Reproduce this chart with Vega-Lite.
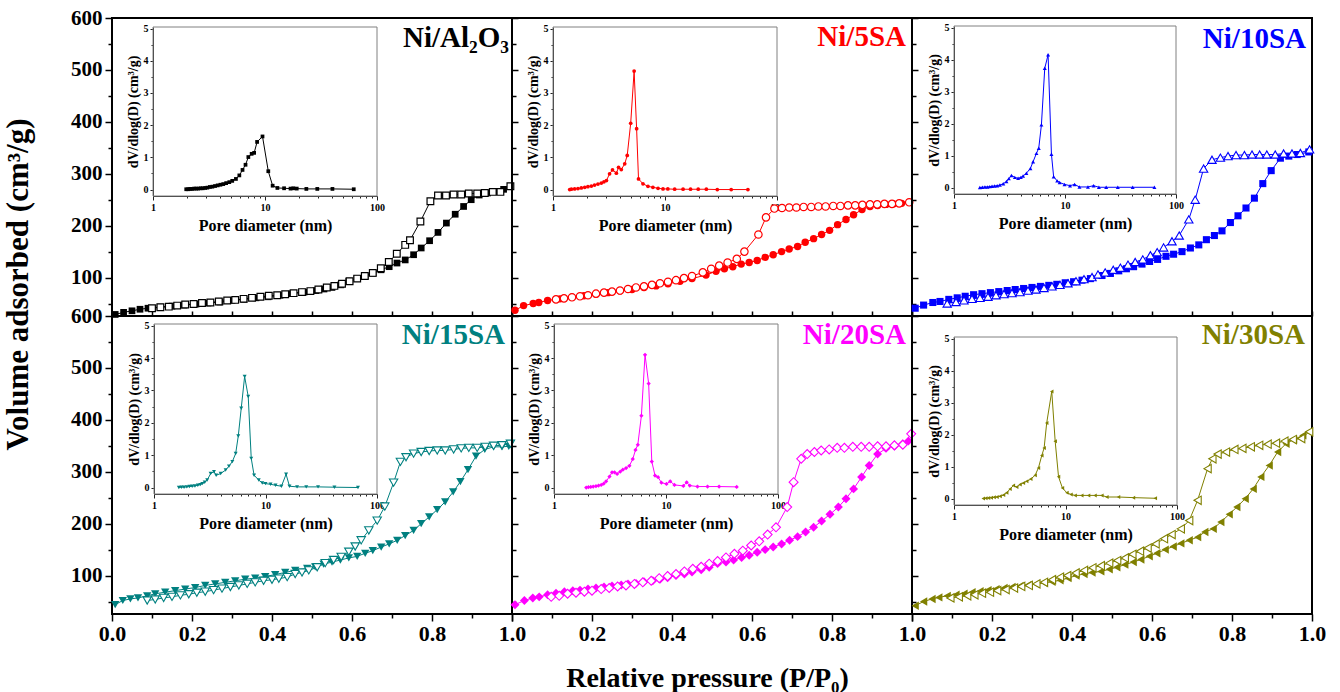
{
"$schema": "https://vega.github.io/schema/vega-lite/v6.json",
"background": "white",
"autosize": {"type": "pad"},
"padding": {"left": 0, "top": 6, "right": 0, "bottom": 0},
"columns": 3,
"spacing": 0,
"bounds": "flush",
"config": {
  "font": "Liberation Serif",
  "view": {"stroke": "#000", "strokeWidth": 2},
  "axis": {"labelFont": "Liberation Serif", "labelFontWeight": "bold", "labelColor": "#000", "titleFont": "Liberation Serif", "titleFontWeight": "bold", "titleColor": "#000", "tickColor": "#000", "grid": false, "labelFlush": false, "labelOverlap": false, "labelBound": false}
},
"datasets": {
"iso": [
{"sample":"Ni/Al2O3","branch":"ads","p":0.008,"v":29},{"sample":"Ni/Al2O3","branch":"ads","p":0.029,"v":33},{"sample":"Ni/Al2O3","branch":"ads","p":0.05,"v":36},{"sample":"Ni/Al2O3","branch":"ads","p":0.07,"v":39},{"sample":"Ni/Al2O3","branch":"ads","p":0.09,"v":41},{"sample":"Ni/Al2O3","branch":"ads","p":0.12,"v":43},{"sample":"Ni/Al2O3","branch":"ads","p":0.15,"v":45},{"sample":"Ni/Al2O3","branch":"ads","p":0.18,"v":47},{"sample":"Ni/Al2O3","branch":"ads","p":0.21,"v":49},{"sample":"Ni/Al2O3","branch":"ads","p":0.24,"v":51},{"sample":"Ni/Al2O3","branch":"ads","p":0.27,"v":53},{"sample":"Ni/Al2O3","branch":"ads","p":0.3,"v":56},{"sample":"Ni/Al2O3","branch":"ads","p":0.33,"v":58},{"sample":"Ni/Al2O3","branch":"ads","p":0.36,"v":61},{"sample":"Ni/Al2O3","branch":"ads","p":0.39,"v":63},{"sample":"Ni/Al2O3","branch":"ads","p":0.42,"v":66},{"sample":"Ni/Al2O3","branch":"ads","p":0.45,"v":69},{"sample":"Ni/Al2O3","branch":"ads","p":0.48,"v":72},{"sample":"Ni/Al2O3","branch":"ads","p":0.51,"v":75},{"sample":"Ni/Al2O3","branch":"ads","p":0.53,"v":78},{"sample":"Ni/Al2O3","branch":"ads","p":0.55,"v":81},{"sample":"Ni/Al2O3","branch":"ads","p":0.572,"v":86},{"sample":"Ni/Al2O3","branch":"ads","p":0.592,"v":93},{"sample":"Ni/Al2O3","branch":"ads","p":0.6125,"v":98},{"sample":"Ni/Al2O3","branch":"ads","p":0.633,"v":103},{"sample":"Ni/Al2O3","branch":"ads","p":0.6525,"v":108},{"sample":"Ni/Al2O3","branch":"ads","p":0.6725,"v":115},{"sample":"Ni/Al2O3","branch":"ads","p":0.693,"v":121},{"sample":"Ni/Al2O3","branch":"ads","p":0.7125,"v":128},{"sample":"Ni/Al2O3","branch":"ads","p":0.733,"v":134},{"sample":"Ni/Al2O3","branch":"ads","p":0.754,"v":144},{"sample":"Ni/Al2O3","branch":"ads","p":0.773,"v":157},{"sample":"Ni/Al2O3","branch":"ads","p":0.794,"v":171},{"sample":"Ni/Al2O3","branch":"ads","p":0.815,"v":187},{"sample":"Ni/Al2O3","branch":"ads","p":0.836,"v":205},{"sample":"Ni/Al2O3","branch":"ads","p":0.858,"v":222},{"sample":"Ni/Al2O3","branch":"ads","p":0.879,"v":237},{"sample":"Ni/Al2O3","branch":"ads","p":0.898,"v":250},{"sample":"Ni/Al2O3","branch":"ads","p":0.918,"v":259},{"sample":"Ni/Al2O3","branch":"ads","p":0.939,"v":263},{"sample":"Ni/Al2O3","branch":"ads","p":0.958,"v":266},{"sample":"Ni/Al2O3","branch":"ads","p":0.979,"v":270},
{"sample":"Ni/Al2O3","branch":"des","p":0.1,"v":41},{"sample":"Ni/Al2O3","branch":"des","p":0.121,"v":43},{"sample":"Ni/Al2O3","branch":"des","p":0.142,"v":44},{"sample":"Ni/Al2O3","branch":"des","p":0.163,"v":46},{"sample":"Ni/Al2O3","branch":"des","p":0.183,"v":48},{"sample":"Ni/Al2O3","branch":"des","p":0.204,"v":49},{"sample":"Ni/Al2O3","branch":"des","p":0.225,"v":51},{"sample":"Ni/Al2O3","branch":"des","p":0.246,"v":52},{"sample":"Ni/Al2O3","branch":"des","p":0.267,"v":54},{"sample":"Ni/Al2O3","branch":"des","p":0.288,"v":56},{"sample":"Ni/Al2O3","branch":"des","p":0.308,"v":57},{"sample":"Ni/Al2O3","branch":"des","p":0.329,"v":59},{"sample":"Ni/Al2O3","branch":"des","p":0.35,"v":61},{"sample":"Ni/Al2O3","branch":"des","p":0.371,"v":63},{"sample":"Ni/Al2O3","branch":"des","p":0.392,"v":65},{"sample":"Ni/Al2O3","branch":"des","p":0.413,"v":66},{"sample":"Ni/Al2O3","branch":"des","p":0.433,"v":68},{"sample":"Ni/Al2O3","branch":"des","p":0.454,"v":70},{"sample":"Ni/Al2O3","branch":"des","p":0.475,"v":72},{"sample":"Ni/Al2O3","branch":"des","p":0.496,"v":74},{"sample":"Ni/Al2O3","branch":"des","p":0.516,"v":77},{"sample":"Ni/Al2O3","branch":"des","p":0.537,"v":81},{"sample":"Ni/Al2O3","branch":"des","p":0.556,"v":84},{"sample":"Ni/Al2O3","branch":"des","p":0.575,"v":88},{"sample":"Ni/Al2O3","branch":"des","p":0.594,"v":93},{"sample":"Ni/Al2O3","branch":"des","p":0.613,"v":98},{"sample":"Ni/Al2O3","branch":"des","p":0.632,"v":103},{"sample":"Ni/Al2O3","branch":"des","p":0.652,"v":109},{"sample":"Ni/Al2O3","branch":"des","p":0.672,"v":118},{"sample":"Ni/Al2O3","branch":"des","p":0.692,"v":130},{"sample":"Ni/Al2O3","branch":"des","p":0.712,"v":146},{"sample":"Ni/Al2O3","branch":"des","p":0.733,"v":163},{"sample":"Ni/Al2O3","branch":"des","p":0.745,"v":172},{"sample":"Ni/Al2O3","branch":"des","p":0.771,"v":208},{"sample":"Ni/Al2O3","branch":"des","p":0.796,"v":247},{"sample":"Ni/Al2O3","branch":"des","p":0.815,"v":258},{"sample":"Ni/Al2O3","branch":"des","p":0.835,"v":258},{"sample":"Ni/Al2O3","branch":"des","p":0.854,"v":260},{"sample":"Ni/Al2O3","branch":"des","p":0.873,"v":260},{"sample":"Ni/Al2O3","branch":"des","p":0.892,"v":262},{"sample":"Ni/Al2O3","branch":"des","p":0.913,"v":262},{"sample":"Ni/Al2O3","branch":"des","p":0.932,"v":263},{"sample":"Ni/Al2O3","branch":"des","p":0.952,"v":265},{"sample":"Ni/Al2O3","branch":"des","p":0.971,"v":265},{"sample":"Ni/Al2O3","branch":"des","p":0.996,"v":276},
{"sample":"Ni/5SA","branch":"ads","p":0.0075,"v":37},{"sample":"Ni/5SA","branch":"ads","p":0.029,"v":46},{"sample":"Ni/5SA","branch":"ads","p":0.053,"v":50},{"sample":"Ni/5SA","branch":"ads","p":0.067,"v":52},{"sample":"Ni/5SA","branch":"ads","p":0.089,"v":56},{"sample":"Ni/5SA","branch":"ads","p":0.12,"v":59},{"sample":"Ni/5SA","branch":"ads","p":0.15,"v":62},{"sample":"Ni/5SA","branch":"ads","p":0.18,"v":65},{"sample":"Ni/5SA","branch":"ads","p":0.21,"v":68},{"sample":"Ni/5SA","branch":"ads","p":0.24,"v":71},{"sample":"Ni/5SA","branch":"ads","p":0.27,"v":74},{"sample":"Ni/5SA","branch":"ads","p":0.3,"v":77},{"sample":"Ni/5SA","branch":"ads","p":0.33,"v":81},{"sample":"Ni/5SA","branch":"ads","p":0.36,"v":84},{"sample":"Ni/5SA","branch":"ads","p":0.39,"v":88},{"sample":"Ni/5SA","branch":"ads","p":0.42,"v":93},{"sample":"Ni/5SA","branch":"ads","p":0.45,"v":98},{"sample":"Ni/5SA","branch":"ads","p":0.485,"v":105},{"sample":"Ni/5SA","branch":"ads","p":0.51,"v":112},{"sample":"Ni/5SA","branch":"ads","p":0.531,"v":117},{"sample":"Ni/5SA","branch":"ads","p":0.552,"v":121},{"sample":"Ni/5SA","branch":"ads","p":0.573,"v":126},{"sample":"Ni/5SA","branch":"ads","p":0.593,"v":129},{"sample":"Ni/5SA","branch":"ads","p":0.613,"v":133},{"sample":"Ni/5SA","branch":"ads","p":0.633,"v":139},{"sample":"Ni/5SA","branch":"ads","p":0.653,"v":144},{"sample":"Ni/5SA","branch":"ads","p":0.674,"v":150},{"sample":"Ni/5SA","branch":"ads","p":0.693,"v":155},{"sample":"Ni/5SA","branch":"ads","p":0.714,"v":160},{"sample":"Ni/5SA","branch":"ads","p":0.733,"v":168},{"sample":"Ni/5SA","branch":"ads","p":0.754,"v":175},{"sample":"Ni/5SA","branch":"ads","p":0.774,"v":183},{"sample":"Ni/5SA","branch":"ads","p":0.794,"v":191},{"sample":"Ni/5SA","branch":"ads","p":0.814,"v":202},{"sample":"Ni/5SA","branch":"ads","p":0.835,"v":212},{"sample":"Ni/5SA","branch":"ads","p":0.854,"v":221},{"sample":"Ni/5SA","branch":"ads","p":0.875,"v":231},{"sample":"Ni/5SA","branch":"ads","p":0.895,"v":237},{"sample":"Ni/5SA","branch":"ads","p":0.914,"v":239},{"sample":"Ni/5SA","branch":"ads","p":0.935,"v":241},{"sample":"Ni/5SA","branch":"ads","p":0.954,"v":242},{"sample":"Ni/5SA","branch":"ads","p":0.974,"v":243},
{"sample":"Ni/5SA","branch":"des","p":0.11,"v":58},{"sample":"Ni/5SA","branch":"des","p":0.13,"v":60},{"sample":"Ni/5SA","branch":"des","p":0.15,"v":62},{"sample":"Ni/5SA","branch":"des","p":0.17,"v":64},{"sample":"Ni/5SA","branch":"des","p":0.19,"v":66},{"sample":"Ni/5SA","branch":"des","p":0.21,"v":69},{"sample":"Ni/5SA","branch":"des","p":0.23,"v":71},{"sample":"Ni/5SA","branch":"des","p":0.25,"v":73},{"sample":"Ni/5SA","branch":"des","p":0.27,"v":75},{"sample":"Ni/5SA","branch":"des","p":0.29,"v":78},{"sample":"Ni/5SA","branch":"des","p":0.31,"v":81},{"sample":"Ni/5SA","branch":"des","p":0.33,"v":83},{"sample":"Ni/5SA","branch":"des","p":0.35,"v":86},{"sample":"Ni/5SA","branch":"des","p":0.37,"v":89},{"sample":"Ni/5SA","branch":"des","p":0.39,"v":92},{"sample":"Ni/5SA","branch":"des","p":0.41,"v":95},{"sample":"Ni/5SA","branch":"des","p":0.43,"v":99},{"sample":"Ni/5SA","branch":"des","p":0.45,"v":103},{"sample":"Ni/5SA","branch":"des","p":0.477,"v":110},{"sample":"Ni/5SA","branch":"des","p":0.498,"v":117},{"sample":"Ni/5SA","branch":"des","p":0.518,"v":123},{"sample":"Ni/5SA","branch":"des","p":0.539,"v":129},{"sample":"Ni/5SA","branch":"des","p":0.562,"v":136},{"sample":"Ni/5SA","branch":"des","p":0.581,"v":150},{"sample":"Ni/5SA","branch":"des","p":0.616,"v":183},{"sample":"Ni/5SA","branch":"des","p":0.635,"v":216},{"sample":"Ni/5SA","branch":"des","p":0.656,"v":233},{"sample":"Ni/5SA","branch":"des","p":0.675,"v":234},{"sample":"Ni/5SA","branch":"des","p":0.693,"v":235},{"sample":"Ni/5SA","branch":"des","p":0.711,"v":235},{"sample":"Ni/5SA","branch":"des","p":0.729,"v":236},{"sample":"Ni/5SA","branch":"des","p":0.748,"v":236},{"sample":"Ni/5SA","branch":"des","p":0.766,"v":237},{"sample":"Ni/5SA","branch":"des","p":0.784,"v":237},{"sample":"Ni/5SA","branch":"des","p":0.803,"v":238},{"sample":"Ni/5SA","branch":"des","p":0.821,"v":238},{"sample":"Ni/5SA","branch":"des","p":0.84,"v":239},{"sample":"Ni/5SA","branch":"des","p":0.858,"v":239},{"sample":"Ni/5SA","branch":"des","p":0.876,"v":240},{"sample":"Ni/5SA","branch":"des","p":0.895,"v":241},{"sample":"Ni/5SA","branch":"des","p":0.913,"v":241},{"sample":"Ni/5SA","branch":"des","p":0.931,"v":242},{"sample":"Ni/5SA","branch":"des","p":0.95,"v":242},{"sample":"Ni/5SA","branch":"des","p":0.968,"v":243},{"sample":"Ni/5SA","branch":"des","p":0.993,"v":245},
{"sample":"Ni/10SA","branch":"ads","p":0.008,"v":41},{"sample":"Ni/10SA","branch":"ads","p":0.029,"v":47},{"sample":"Ni/10SA","branch":"ads","p":0.052,"v":52},{"sample":"Ni/10SA","branch":"ads","p":0.07,"v":54},{"sample":"Ni/10SA","branch":"ads","p":0.092,"v":58},{"sample":"Ni/10SA","branch":"ads","p":0.113,"v":61},{"sample":"Ni/10SA","branch":"ads","p":0.133,"v":64},{"sample":"Ni/10SA","branch":"ads","p":0.154,"v":67},{"sample":"Ni/10SA","branch":"ads","p":0.175,"v":69},{"sample":"Ni/10SA","branch":"ads","p":0.196,"v":71},{"sample":"Ni/10SA","branch":"ads","p":0.217,"v":73},{"sample":"Ni/10SA","branch":"ads","p":0.238,"v":75},{"sample":"Ni/10SA","branch":"ads","p":0.258,"v":77},{"sample":"Ni/10SA","branch":"ads","p":0.279,"v":79},{"sample":"Ni/10SA","branch":"ads","p":0.3,"v":81},{"sample":"Ni/10SA","branch":"ads","p":0.321,"v":83},{"sample":"Ni/10SA","branch":"ads","p":0.342,"v":85},{"sample":"Ni/10SA","branch":"ads","p":0.362,"v":87},{"sample":"Ni/10SA","branch":"ads","p":0.383,"v":90},{"sample":"Ni/10SA","branch":"ads","p":0.404,"v":92},{"sample":"Ni/10SA","branch":"ads","p":0.425,"v":95},{"sample":"Ni/10SA","branch":"ads","p":0.446,"v":98},{"sample":"Ni/10SA","branch":"ads","p":0.475,"v":104},{"sample":"Ni/10SA","branch":"ads","p":0.496,"v":108},{"sample":"Ni/10SA","branch":"ads","p":0.517,"v":113},{"sample":"Ni/10SA","branch":"ads","p":0.536,"v":117},{"sample":"Ni/10SA","branch":"ads","p":0.554,"v":121},{"sample":"Ni/10SA","branch":"ads","p":0.575,"v":126},{"sample":"Ni/10SA","branch":"ads","p":0.594,"v":131},{"sample":"Ni/10SA","branch":"ads","p":0.614,"v":135},{"sample":"Ni/10SA","branch":"ads","p":0.635,"v":141},{"sample":"Ni/10SA","branch":"ads","p":0.654,"v":145},{"sample":"Ni/10SA","branch":"ads","p":0.675,"v":150},{"sample":"Ni/10SA","branch":"ads","p":0.696,"v":157},{"sample":"Ni/10SA","branch":"ads","p":0.717,"v":163},{"sample":"Ni/10SA","branch":"ads","p":0.736,"v":173},{"sample":"Ni/10SA","branch":"ads","p":0.756,"v":181},{"sample":"Ni/10SA","branch":"ads","p":0.775,"v":190},{"sample":"Ni/10SA","branch":"ads","p":0.796,"v":206},{"sample":"Ni/10SA","branch":"ads","p":0.815,"v":219},{"sample":"Ni/10SA","branch":"ads","p":0.835,"v":234},{"sample":"Ni/10SA","branch":"ads","p":0.856,"v":253},{"sample":"Ni/10SA","branch":"ads","p":0.877,"v":281},{"sample":"Ni/10SA","branch":"ads","p":0.898,"v":306},{"sample":"Ni/10SA","branch":"ads","p":0.921,"v":330},{"sample":"Ni/10SA","branch":"ads","p":0.942,"v":334},{"sample":"Ni/10SA","branch":"ads","p":0.963,"v":337},{"sample":"Ni/10SA","branch":"ads","p":0.992,"v":342},
{"sample":"Ni/10SA","branch":"des","p":0.088,"v":50},{"sample":"Ni/10SA","branch":"des","p":0.11,"v":53},{"sample":"Ni/10SA","branch":"des","p":0.13,"v":56},{"sample":"Ni/10SA","branch":"des","p":0.15,"v":59},{"sample":"Ni/10SA","branch":"des","p":0.17,"v":61},{"sample":"Ni/10SA","branch":"des","p":0.19,"v":63},{"sample":"Ni/10SA","branch":"des","p":0.21,"v":66},{"sample":"Ni/10SA","branch":"des","p":0.23,"v":68},{"sample":"Ni/10SA","branch":"des","p":0.25,"v":70},{"sample":"Ni/10SA","branch":"des","p":0.27,"v":72},{"sample":"Ni/10SA","branch":"des","p":0.29,"v":75},{"sample":"Ni/10SA","branch":"des","p":0.31,"v":77},{"sample":"Ni/10SA","branch":"des","p":0.33,"v":80},{"sample":"Ni/10SA","branch":"des","p":0.35,"v":83},{"sample":"Ni/10SA","branch":"des","p":0.37,"v":86},{"sample":"Ni/10SA","branch":"des","p":0.39,"v":89},{"sample":"Ni/10SA","branch":"des","p":0.41,"v":93},{"sample":"Ni/10SA","branch":"des","p":0.43,"v":97},{"sample":"Ni/10SA","branch":"des","p":0.45,"v":101},{"sample":"Ni/10SA","branch":"des","p":0.465,"v":106},{"sample":"Ni/10SA","branch":"des","p":0.483,"v":110},{"sample":"Ni/10SA","branch":"des","p":0.503,"v":115},{"sample":"Ni/10SA","branch":"des","p":0.521,"v":119},{"sample":"Ni/10SA","branch":"des","p":0.54,"v":125},{"sample":"Ni/10SA","branch":"des","p":0.558,"v":130},{"sample":"Ni/10SA","branch":"des","p":0.577,"v":135},{"sample":"Ni/10SA","branch":"des","p":0.596,"v":143},{"sample":"Ni/10SA","branch":"des","p":0.613,"v":149},{"sample":"Ni/10SA","branch":"des","p":0.629,"v":158},{"sample":"Ni/10SA","branch":"des","p":0.65,"v":170},{"sample":"Ni/10SA","branch":"des","p":0.668,"v":181},{"sample":"Ni/10SA","branch":"des","p":0.692,"v":212},{"sample":"Ni/10SA","branch":"des","p":0.708,"v":250},{"sample":"Ni/10SA","branch":"des","p":0.729,"v":310},{"sample":"Ni/10SA","branch":"des","p":0.75,"v":327},{"sample":"Ni/10SA","branch":"des","p":0.771,"v":331},{"sample":"Ni/10SA","branch":"des","p":0.79,"v":334},{"sample":"Ni/10SA","branch":"des","p":0.81,"v":336},{"sample":"Ni/10SA","branch":"des","p":0.831,"v":336},{"sample":"Ni/10SA","branch":"des","p":0.85,"v":337},{"sample":"Ni/10SA","branch":"des","p":0.869,"v":337},{"sample":"Ni/10SA","branch":"des","p":0.887,"v":337},{"sample":"Ni/10SA","branch":"des","p":0.908,"v":337},{"sample":"Ni/10SA","branch":"des","p":0.929,"v":339},{"sample":"Ni/10SA","branch":"des","p":0.95,"v":339},{"sample":"Ni/10SA","branch":"des","p":0.971,"v":340},{"sample":"Ni/10SA","branch":"des","p":0.994,"v":347},
{"sample":"Ni/15SA","branch":"ads","p":0.008,"v":44},{"sample":"Ni/15SA","branch":"ads","p":0.027,"v":52},{"sample":"Ni/15SA","branch":"ads","p":0.046,"v":55},{"sample":"Ni/15SA","branch":"ads","p":0.065,"v":57},{"sample":"Ni/15SA","branch":"ads","p":0.088,"v":61},{"sample":"Ni/15SA","branch":"ads","p":0.108,"v":65},{"sample":"Ni/15SA","branch":"ads","p":0.133,"v":68},{"sample":"Ni/15SA","branch":"ads","p":0.158,"v":71},{"sample":"Ni/15SA","branch":"ads","p":0.183,"v":74},{"sample":"Ni/15SA","branch":"ads","p":0.208,"v":77},{"sample":"Ni/15SA","branch":"ads","p":0.233,"v":81},{"sample":"Ni/15SA","branch":"ads","p":0.258,"v":84},{"sample":"Ni/15SA","branch":"ads","p":0.283,"v":87},{"sample":"Ni/15SA","branch":"ads","p":0.308,"v":90},{"sample":"Ni/15SA","branch":"ads","p":0.333,"v":93},{"sample":"Ni/15SA","branch":"ads","p":0.358,"v":95},{"sample":"Ni/15SA","branch":"ads","p":0.383,"v":98},{"sample":"Ni/15SA","branch":"ads","p":0.408,"v":102},{"sample":"Ni/15SA","branch":"ads","p":0.433,"v":106},{"sample":"Ni/15SA","branch":"ads","p":0.458,"v":110},{"sample":"Ni/15SA","branch":"ads","p":0.488,"v":114},{"sample":"Ni/15SA","branch":"ads","p":0.508,"v":117},{"sample":"Ni/15SA","branch":"ads","p":0.529,"v":122},{"sample":"Ni/15SA","branch":"ads","p":0.55,"v":126},{"sample":"Ni/15SA","branch":"ads","p":0.571,"v":130},{"sample":"Ni/15SA","branch":"ads","p":0.592,"v":134},{"sample":"Ni/15SA","branch":"ads","p":0.613,"v":137},{"sample":"Ni/15SA","branch":"ads","p":0.633,"v":143},{"sample":"Ni/15SA","branch":"ads","p":0.652,"v":148},{"sample":"Ni/15SA","branch":"ads","p":0.673,"v":155},{"sample":"Ni/15SA","branch":"ads","p":0.693,"v":161},{"sample":"Ni/15SA","branch":"ads","p":0.713,"v":168},{"sample":"Ni/15SA","branch":"ads","p":0.733,"v":177},{"sample":"Ni/15SA","branch":"ads","p":0.754,"v":187},{"sample":"Ni/15SA","branch":"ads","p":0.773,"v":200},{"sample":"Ni/15SA","branch":"ads","p":0.793,"v":213},{"sample":"Ni/15SA","branch":"ads","p":0.813,"v":227},{"sample":"Ni/15SA","branch":"ads","p":0.833,"v":242},{"sample":"Ni/15SA","branch":"ads","p":0.853,"v":261},{"sample":"Ni/15SA","branch":"ads","p":0.871,"v":281},{"sample":"Ni/15SA","branch":"ads","p":0.89,"v":304},{"sample":"Ni/15SA","branch":"ads","p":0.91,"v":330},{"sample":"Ni/15SA","branch":"ads","p":0.932,"v":343},{"sample":"Ni/15SA","branch":"ads","p":0.954,"v":348},{"sample":"Ni/15SA","branch":"ads","p":0.975,"v":348},{"sample":"Ni/15SA","branch":"ads","p":0.992,"v":349},
{"sample":"Ni/15SA","branch":"des","p":0.088,"v":52},{"sample":"Ni/15SA","branch":"des","p":0.108,"v":54},{"sample":"Ni/15SA","branch":"des","p":0.129,"v":57},{"sample":"Ni/15SA","branch":"des","p":0.15,"v":59},{"sample":"Ni/15SA","branch":"des","p":0.171,"v":62},{"sample":"Ni/15SA","branch":"des","p":0.192,"v":64},{"sample":"Ni/15SA","branch":"des","p":0.212,"v":67},{"sample":"Ni/15SA","branch":"des","p":0.233,"v":69},{"sample":"Ni/15SA","branch":"des","p":0.254,"v":72},{"sample":"Ni/15SA","branch":"des","p":0.275,"v":75},{"sample":"Ni/15SA","branch":"des","p":0.296,"v":78},{"sample":"Ni/15SA","branch":"des","p":0.317,"v":81},{"sample":"Ni/15SA","branch":"des","p":0.338,"v":84},{"sample":"Ni/15SA","branch":"des","p":0.358,"v":87},{"sample":"Ni/15SA","branch":"des","p":0.379,"v":90},{"sample":"Ni/15SA","branch":"des","p":0.4,"v":92},{"sample":"Ni/15SA","branch":"des","p":0.417,"v":94},{"sample":"Ni/15SA","branch":"des","p":0.438,"v":97},{"sample":"Ni/15SA","branch":"des","p":0.458,"v":103},{"sample":"Ni/15SA","branch":"des","p":0.475,"v":106},{"sample":"Ni/15SA","branch":"des","p":0.492,"v":110},{"sample":"Ni/15SA","branch":"des","p":0.513,"v":116},{"sample":"Ni/15SA","branch":"des","p":0.533,"v":124},{"sample":"Ni/15SA","branch":"des","p":0.554,"v":130},{"sample":"Ni/15SA","branch":"des","p":0.573,"v":136},{"sample":"Ni/15SA","branch":"des","p":0.592,"v":146},{"sample":"Ni/15SA","branch":"des","p":0.608,"v":156},{"sample":"Ni/15SA","branch":"des","p":0.623,"v":168},{"sample":"Ni/15SA","branch":"des","p":0.642,"v":187},{"sample":"Ni/15SA","branch":"des","p":0.663,"v":206},{"sample":"Ni/15SA","branch":"des","p":0.682,"v":233},{"sample":"Ni/15SA","branch":"des","p":0.704,"v":279},{"sample":"Ni/15SA","branch":"des","p":0.721,"v":319},{"sample":"Ni/15SA","branch":"des","p":0.735,"v":328},{"sample":"Ni/15SA","branch":"des","p":0.754,"v":335},{"sample":"Ni/15SA","branch":"des","p":0.773,"v":338},{"sample":"Ni/15SA","branch":"des","p":0.793,"v":340},{"sample":"Ni/15SA","branch":"des","p":0.813,"v":341},{"sample":"Ni/15SA","branch":"des","p":0.833,"v":341},{"sample":"Ni/15SA","branch":"des","p":0.854,"v":343},{"sample":"Ni/15SA","branch":"des","p":0.873,"v":345},{"sample":"Ni/15SA","branch":"des","p":0.892,"v":346},{"sample":"Ni/15SA","branch":"des","p":0.913,"v":346},{"sample":"Ni/15SA","branch":"des","p":0.933,"v":348},{"sample":"Ni/15SA","branch":"des","p":0.954,"v":350},{"sample":"Ni/15SA","branch":"des","p":0.975,"v":351},{"sample":"Ni/15SA","branch":"des","p":0.996,"v":354},
{"sample":"Ni/20SA","branch":"ads","p":0.0075,"v":44},{"sample":"Ni/20SA","branch":"ads","p":0.031,"v":52},{"sample":"Ni/20SA","branch":"ads","p":0.052,"v":57},{"sample":"Ni/20SA","branch":"ads","p":0.068,"v":59},{"sample":"Ni/20SA","branch":"ads","p":0.089,"v":63},{"sample":"Ni/20SA","branch":"ads","p":0.11,"v":66},{"sample":"Ni/20SA","branch":"ads","p":0.131,"v":69},{"sample":"Ni/20SA","branch":"ads","p":0.152,"v":71},{"sample":"Ni/20SA","branch":"ads","p":0.17,"v":72},{"sample":"Ni/20SA","branch":"ads","p":0.19,"v":74},{"sample":"Ni/20SA","branch":"ads","p":0.21,"v":76},{"sample":"Ni/20SA","branch":"ads","p":0.23,"v":78},{"sample":"Ni/20SA","branch":"ads","p":0.25,"v":80},{"sample":"Ni/20SA","branch":"ads","p":0.273,"v":82},{"sample":"Ni/20SA","branch":"ads","p":0.29,"v":84},{"sample":"Ni/20SA","branch":"ads","p":0.31,"v":85},{"sample":"Ni/20SA","branch":"ads","p":0.33,"v":88},{"sample":"Ni/20SA","branch":"ads","p":0.352,"v":90},{"sample":"Ni/20SA","branch":"ads","p":0.37,"v":93},{"sample":"Ni/20SA","branch":"ads","p":0.389,"v":96},{"sample":"Ni/20SA","branch":"ads","p":0.41,"v":100},{"sample":"Ni/20SA","branch":"ads","p":0.431,"v":103},{"sample":"Ni/20SA","branch":"ads","p":0.45,"v":107},{"sample":"Ni/20SA","branch":"ads","p":0.473,"v":111},{"sample":"Ni/20SA","branch":"ads","p":0.493,"v":116},{"sample":"Ni/20SA","branch":"ads","p":0.514,"v":123},{"sample":"Ni/20SA","branch":"ads","p":0.535,"v":126},{"sample":"Ni/20SA","branch":"ads","p":0.554,"v":130},{"sample":"Ni/20SA","branch":"ads","p":0.574,"v":135},{"sample":"Ni/20SA","branch":"ads","p":0.593,"v":139},{"sample":"Ni/20SA","branch":"ads","p":0.613,"v":145},{"sample":"Ni/20SA","branch":"ads","p":0.633,"v":150},{"sample":"Ni/20SA","branch":"ads","p":0.653,"v":155},{"sample":"Ni/20SA","branch":"ads","p":0.674,"v":161},{"sample":"Ni/20SA","branch":"ads","p":0.694,"v":168},{"sample":"Ni/20SA","branch":"ads","p":0.714,"v":175},{"sample":"Ni/20SA","branch":"ads","p":0.734,"v":184},{"sample":"Ni/20SA","branch":"ads","p":0.754,"v":193},{"sample":"Ni/20SA","branch":"ads","p":0.774,"v":205},{"sample":"Ni/20SA","branch":"ads","p":0.795,"v":218},{"sample":"Ni/20SA","branch":"ads","p":0.816,"v":232},{"sample":"Ni/20SA","branch":"ads","p":0.835,"v":248},{"sample":"Ni/20SA","branch":"ads","p":0.854,"v":267},{"sample":"Ni/20SA","branch":"ads","p":0.874,"v":290},{"sample":"Ni/20SA","branch":"ads","p":0.893,"v":312},{"sample":"Ni/20SA","branch":"ads","p":0.914,"v":334},{"sample":"Ni/20SA","branch":"ads","p":0.935,"v":345},{"sample":"Ni/20SA","branch":"ads","p":0.956,"v":349},{"sample":"Ni/20SA","branch":"ads","p":0.977,"v":354},{"sample":"Ni/20SA","branch":"ads","p":0.991,"v":359},
{"sample":"Ni/20SA","branch":"des","p":0.098,"v":59},{"sample":"Ni/20SA","branch":"des","p":0.118,"v":61},{"sample":"Ni/20SA","branch":"des","p":0.139,"v":65},{"sample":"Ni/20SA","branch":"des","p":0.16,"v":67},{"sample":"Ni/20SA","branch":"des","p":0.181,"v":69},{"sample":"Ni/20SA","branch":"des","p":0.2,"v":71},{"sample":"Ni/20SA","branch":"des","p":0.223,"v":74},{"sample":"Ni/20SA","branch":"des","p":0.243,"v":76},{"sample":"Ni/20SA","branch":"des","p":0.264,"v":79},{"sample":"Ni/20SA","branch":"des","p":0.285,"v":81},{"sample":"Ni/20SA","branch":"des","p":0.306,"v":84},{"sample":"Ni/20SA","branch":"des","p":0.327,"v":87},{"sample":"Ni/20SA","branch":"des","p":0.348,"v":90},{"sample":"Ni/20SA","branch":"des","p":0.368,"v":95},{"sample":"Ni/20SA","branch":"des","p":0.389,"v":99},{"sample":"Ni/20SA","branch":"des","p":0.41,"v":103},{"sample":"Ni/20SA","branch":"des","p":0.431,"v":108},{"sample":"Ni/20SA","branch":"des","p":0.452,"v":113},{"sample":"Ni/20SA","branch":"des","p":0.473,"v":117},{"sample":"Ni/20SA","branch":"des","p":0.493,"v":123},{"sample":"Ni/20SA","branch":"des","p":0.514,"v":128},{"sample":"Ni/20SA","branch":"des","p":0.535,"v":135},{"sample":"Ni/20SA","branch":"des","p":0.556,"v":142},{"sample":"Ni/20SA","branch":"des","p":0.577,"v":148},{"sample":"Ni/20SA","branch":"des","p":0.598,"v":158},{"sample":"Ni/20SA","branch":"des","p":0.618,"v":166},{"sample":"Ni/20SA","branch":"des","p":0.639,"v":179},{"sample":"Ni/20SA","branch":"des","p":0.66,"v":193},{"sample":"Ni/20SA","branch":"des","p":0.688,"v":232},{"sample":"Ni/20SA","branch":"des","p":0.704,"v":280},{"sample":"Ni/20SA","branch":"des","p":0.723,"v":325},{"sample":"Ni/20SA","branch":"des","p":0.738,"v":334},{"sample":"Ni/20SA","branch":"des","p":0.756,"v":338},{"sample":"Ni/20SA","branch":"des","p":0.773,"v":341},{"sample":"Ni/20SA","branch":"des","p":0.793,"v":343},{"sample":"Ni/20SA","branch":"des","p":0.813,"v":346},{"sample":"Ni/20SA","branch":"des","p":0.831,"v":346},{"sample":"Ni/20SA","branch":"des","p":0.852,"v":348},{"sample":"Ni/20SA","branch":"des","p":0.873,"v":348},{"sample":"Ni/20SA","branch":"des","p":0.893,"v":348},{"sample":"Ni/20SA","branch":"des","p":0.914,"v":349},{"sample":"Ni/20SA","branch":"des","p":0.935,"v":349},{"sample":"Ni/20SA","branch":"des","p":0.956,"v":351},{"sample":"Ni/20SA","branch":"des","p":0.977,"v":352},{"sample":"Ni/20SA","branch":"des","p":0.998,"v":373},
{"sample":"Ni/30SA","branch":"ads","p":0.008,"v":42},{"sample":"Ni/30SA","branch":"ads","p":0.029,"v":50},{"sample":"Ni/30SA","branch":"ads","p":0.05,"v":55},{"sample":"Ni/30SA","branch":"ads","p":0.067,"v":58},{"sample":"Ni/30SA","branch":"ads","p":0.088,"v":61},{"sample":"Ni/30SA","branch":"ads","p":0.11,"v":63},{"sample":"Ni/30SA","branch":"ads","p":0.13,"v":65},{"sample":"Ni/30SA","branch":"ads","p":0.15,"v":68},{"sample":"Ni/30SA","branch":"ads","p":0.17,"v":70},{"sample":"Ni/30SA","branch":"ads","p":0.19,"v":72},{"sample":"Ni/30SA","branch":"ads","p":0.21,"v":74},{"sample":"Ni/30SA","branch":"ads","p":0.23,"v":76},{"sample":"Ni/30SA","branch":"ads","p":0.25,"v":78},{"sample":"Ni/30SA","branch":"ads","p":0.27,"v":80},{"sample":"Ni/30SA","branch":"ads","p":0.29,"v":82},{"sample":"Ni/30SA","branch":"ads","p":0.31,"v":84},{"sample":"Ni/30SA","branch":"ads","p":0.33,"v":86},{"sample":"Ni/30SA","branch":"ads","p":0.35,"v":88},{"sample":"Ni/30SA","branch":"ads","p":0.37,"v":91},{"sample":"Ni/30SA","branch":"ads","p":0.39,"v":95},{"sample":"Ni/30SA","branch":"ads","p":0.41,"v":100},{"sample":"Ni/30SA","branch":"ads","p":0.43,"v":103},{"sample":"Ni/30SA","branch":"ads","p":0.45,"v":106},{"sample":"Ni/30SA","branch":"ads","p":0.472,"v":108},{"sample":"Ni/30SA","branch":"ads","p":0.493,"v":112},{"sample":"Ni/30SA","branch":"ads","p":0.512,"v":116},{"sample":"Ni/30SA","branch":"ads","p":0.532,"v":121},{"sample":"Ni/30SA","branch":"ads","p":0.553,"v":126},{"sample":"Ni/30SA","branch":"ads","p":0.572,"v":131},{"sample":"Ni/30SA","branch":"ads","p":0.593,"v":137},{"sample":"Ni/30SA","branch":"ads","p":0.612,"v":143},{"sample":"Ni/30SA","branch":"ads","p":0.633,"v":150},{"sample":"Ni/30SA","branch":"ads","p":0.653,"v":156},{"sample":"Ni/30SA","branch":"ads","p":0.672,"v":162},{"sample":"Ni/30SA","branch":"ads","p":0.693,"v":168},{"sample":"Ni/30SA","branch":"ads","p":0.714,"v":174},{"sample":"Ni/30SA","branch":"ads","p":0.732,"v":184},{"sample":"Ni/30SA","branch":"ads","p":0.753,"v":190},{"sample":"Ni/30SA","branch":"ads","p":0.772,"v":203},{"sample":"Ni/30SA","branch":"ads","p":0.793,"v":218},{"sample":"Ni/30SA","branch":"ads","p":0.812,"v":232},{"sample":"Ni/30SA","branch":"ads","p":0.833,"v":248},{"sample":"Ni/30SA","branch":"ads","p":0.853,"v":267},{"sample":"Ni/30SA","branch":"ads","p":0.872,"v":290},{"sample":"Ni/30SA","branch":"ads","p":0.893,"v":312},{"sample":"Ni/30SA","branch":"ads","p":0.914,"v":338},{"sample":"Ni/30SA","branch":"ads","p":0.935,"v":354},{"sample":"Ni/30SA","branch":"ads","p":0.954,"v":362},{"sample":"Ni/30SA","branch":"ads","p":0.977,"v":370},
{"sample":"Ni/30SA","branch":"des","p":0.096,"v":57},{"sample":"Ni/30SA","branch":"des","p":0.117,"v":59},{"sample":"Ni/30SA","branch":"des","p":0.138,"v":61},{"sample":"Ni/30SA","branch":"des","p":0.156,"v":63},{"sample":"Ni/30SA","branch":"des","p":0.175,"v":66},{"sample":"Ni/30SA","branch":"des","p":0.195,"v":68},{"sample":"Ni/30SA","branch":"des","p":0.213,"v":71},{"sample":"Ni/30SA","branch":"des","p":0.234,"v":73},{"sample":"Ni/30SA","branch":"des","p":0.255,"v":76},{"sample":"Ni/30SA","branch":"des","p":0.273,"v":79},{"sample":"Ni/30SA","branch":"des","p":0.292,"v":81},{"sample":"Ni/30SA","branch":"des","p":0.311,"v":84},{"sample":"Ni/30SA","branch":"des","p":0.33,"v":87},{"sample":"Ni/30SA","branch":"des","p":0.35,"v":92},{"sample":"Ni/30SA","branch":"des","p":0.37,"v":97},{"sample":"Ni/30SA","branch":"des","p":0.388,"v":100},{"sample":"Ni/30SA","branch":"des","p":0.409,"v":105},{"sample":"Ni/30SA","branch":"des","p":0.43,"v":110},{"sample":"Ni/30SA","branch":"des","p":0.451,"v":115},{"sample":"Ni/30SA","branch":"des","p":0.472,"v":119},{"sample":"Ni/30SA","branch":"des","p":0.493,"v":124},{"sample":"Ni/30SA","branch":"des","p":0.513,"v":129},{"sample":"Ni/30SA","branch":"des","p":0.532,"v":134},{"sample":"Ni/30SA","branch":"des","p":0.551,"v":141},{"sample":"Ni/30SA","branch":"des","p":0.57,"v":147},{"sample":"Ni/30SA","branch":"des","p":0.589,"v":153},{"sample":"Ni/30SA","branch":"des","p":0.609,"v":161},{"sample":"Ni/30SA","branch":"des","p":0.63,"v":171},{"sample":"Ni/30SA","branch":"des","p":0.649,"v":179},{"sample":"Ni/30SA","branch":"des","p":0.672,"v":190},{"sample":"Ni/30SA","branch":"des","p":0.693,"v":206},{"sample":"Ni/30SA","branch":"des","p":0.714,"v":245},{"sample":"Ni/30SA","branch":"des","p":0.739,"v":306},{"sample":"Ni/30SA","branch":"des","p":0.751,"v":325},{"sample":"Ni/30SA","branch":"des","p":0.764,"v":334},{"sample":"Ni/30SA","branch":"des","p":0.785,"v":338},{"sample":"Ni/30SA","branch":"des","p":0.806,"v":343},{"sample":"Ni/30SA","branch":"des","p":0.826,"v":345},{"sample":"Ni/30SA","branch":"des","p":0.847,"v":348},{"sample":"Ni/30SA","branch":"des","p":0.868,"v":351},{"sample":"Ni/30SA","branch":"des","p":0.889,"v":353},{"sample":"Ni/30SA","branch":"des","p":0.91,"v":355},{"sample":"Ni/30SA","branch":"des","p":0.931,"v":359},{"sample":"Ni/30SA","branch":"des","p":0.952,"v":362},{"sample":"Ni/30SA","branch":"des","p":0.973,"v":364},{"sample":"Ni/30SA","branch":"des","p":0.993,"v":377}
],
"psd": [
{"sample":"Ni/Al2O3","d":1.98,"dv":0.01},{"sample":"Ni/Al2O3","d":2.06,"dv":0.01},{"sample":"Ni/Al2O3","d":2.14,"dv":0.02},{"sample":"Ni/Al2O3","d":2.23,"dv":0.02},{"sample":"Ni/Al2O3","d":2.33,"dv":0.03},{"sample":"Ni/Al2O3","d":2.43,"dv":0.03},{"sample":"Ni/Al2O3","d":2.54,"dv":0.03},{"sample":"Ni/Al2O3","d":2.66,"dv":0.04},{"sample":"Ni/Al2O3","d":2.78,"dv":0.04},{"sample":"Ni/Al2O3","d":2.92,"dv":0.05},{"sample":"Ni/Al2O3","d":3.06,"dv":0.06},{"sample":"Ni/Al2O3","d":3.22,"dv":0.08},{"sample":"Ni/Al2O3","d":3.39,"dv":0.09},{"sample":"Ni/Al2O3","d":3.58,"dv":0.11},{"sample":"Ni/Al2O3","d":3.78,"dv":0.13},{"sample":"Ni/Al2O3","d":4.0,"dv":0.15},{"sample":"Ni/Al2O3","d":4.24,"dv":0.17},{"sample":"Ni/Al2O3","d":4.5,"dv":0.2},{"sample":"Ni/Al2O3","d":4.8,"dv":0.23},{"sample":"Ni/Al2O3","d":5.1,"dv":0.27},{"sample":"Ni/Al2O3","d":5.5,"dv":0.33},{"sample":"Ni/Al2O3","d":5.9,"dv":0.44},{"sample":"Ni/Al2O3","d":6.3,"dv":0.61},{"sample":"Ni/Al2O3","d":6.7,"dv":0.77},{"sample":"Ni/Al2O3","d":7.1,"dv":1.01},{"sample":"Ni/Al2O3","d":7.6,"dv":1.11},{"sample":"Ni/Al2O3","d":8.0,"dv":1.14},{"sample":"Ni/Al2O3","d":8.5,"dv":1.48},{"sample":"Ni/Al2O3","d":9.5,"dv":1.65},{"sample":"Ni/Al2O3","d":10.7,"dv":0.57},{"sample":"Ni/Al2O3","d":11.7,"dv":0.12},{"sample":"Ni/Al2O3","d":12.9,"dv":0.05},{"sample":"Ni/Al2O3","d":14.8,"dv":0.04},{"sample":"Ni/Al2O3","d":16.9,"dv":0.03},{"sample":"Ni/Al2O3","d":17.9,"dv":0.04},{"sample":"Ni/Al2O3","d":19.2,"dv":0.03},{"sample":"Ni/Al2O3","d":23.4,"dv":0.02},{"sample":"Ni/Al2O3","d":29.3,"dv":0.02},{"sample":"Ni/Al2O3","d":40,"dv":0.02},{"sample":"Ni/Al2O3","d":62,"dv":0.01},
{"sample":"Ni/5SA","d":1.41,"dv":0},{"sample":"Ni/5SA","d":1.46,"dv":0.01},{"sample":"Ni/5SA","d":1.56,"dv":0.02},{"sample":"Ni/5SA","d":1.67,"dv":0.03},{"sample":"Ni/5SA","d":1.79,"dv":0.05},{"sample":"Ni/5SA","d":1.92,"dv":0.07},{"sample":"Ni/5SA","d":2.05,"dv":0.09},{"sample":"Ni/5SA","d":2.2,"dv":0.11},{"sample":"Ni/5SA","d":2.35,"dv":0.14},{"sample":"Ni/5SA","d":2.52,"dv":0.17},{"sample":"Ni/5SA","d":2.7,"dv":0.2},{"sample":"Ni/5SA","d":2.85,"dv":0.24},{"sample":"Ni/5SA","d":3.0,"dv":0.28},{"sample":"Ni/5SA","d":3.2,"dv":0.49},{"sample":"Ni/5SA","d":3.4,"dv":0.61},{"sample":"Ni/5SA","d":3.68,"dv":0.51},{"sample":"Ni/5SA","d":3.85,"dv":0.69},{"sample":"Ni/5SA","d":4.07,"dv":0.62},{"sample":"Ni/5SA","d":4.37,"dv":0.8},{"sample":"Ni/5SA","d":4.6,"dv":1.06},{"sample":"Ni/5SA","d":4.94,"dv":2.06},{"sample":"Ni/5SA","d":5.3,"dv":3.68},{"sample":"Ni/5SA","d":5.58,"dv":1.89},{"sample":"Ni/5SA","d":5.8,"dv":0.33},{"sample":"Ni/5SA","d":6.36,"dv":0.18},{"sample":"Ni/5SA","d":7.05,"dv":0.1},{"sample":"Ni/5SA","d":7.8,"dv":0.07},{"sample":"Ni/5SA","d":8.67,"dv":0.04},{"sample":"Ni/5SA","d":9.6,"dv":0.02},{"sample":"Ni/5SA","d":10.6,"dv":0.02},{"sample":"Ni/5SA","d":12.2,"dv":0.01},{"sample":"Ni/5SA","d":14.5,"dv":0.01},{"sample":"Ni/5SA","d":16.9,"dv":0.01},{"sample":"Ni/5SA","d":19.8,"dv":0.01},{"sample":"Ni/5SA","d":23.4,"dv":0.01},{"sample":"Ni/5SA","d":29.3,"dv":0},{"sample":"Ni/5SA","d":39,"dv":0},{"sample":"Ni/5SA","d":55,"dv":0},
{"sample":"Ni/10SA","d":1.71,"dv":0},{"sample":"Ni/10SA","d":1.8,"dv":0.01},{"sample":"Ni/10SA","d":1.9,"dv":0.02},{"sample":"Ni/10SA","d":2.0,"dv":0.02},{"sample":"Ni/10SA","d":2.1,"dv":0.03},{"sample":"Ni/10SA","d":2.2,"dv":0.04},{"sample":"Ni/10SA","d":2.32,"dv":0.05},{"sample":"Ni/10SA","d":2.45,"dv":0.06},{"sample":"Ni/10SA","d":2.59,"dv":0.08},{"sample":"Ni/10SA","d":2.78,"dv":0.12},{"sample":"Ni/10SA","d":2.97,"dv":0.19},{"sample":"Ni/10SA","d":3.12,"dv":0.28},{"sample":"Ni/10SA","d":3.29,"dv":0.38},{"sample":"Ni/10SA","d":3.53,"dv":0.32},{"sample":"Ni/10SA","d":3.78,"dv":0.29},{"sample":"Ni/10SA","d":4.0,"dv":0.32},{"sample":"Ni/10SA","d":4.19,"dv":0.36},{"sample":"Ni/10SA","d":4.49,"dv":0.45},{"sample":"Ni/10SA","d":4.88,"dv":0.6},{"sample":"Ni/10SA","d":5.16,"dv":0.81},{"sample":"Ni/10SA","d":5.53,"dv":1.07},{"sample":"Ni/10SA","d":5.8,"dv":1.23},{"sample":"Ni/10SA","d":6.13,"dv":1.96},{"sample":"Ni/10SA","d":6.57,"dv":3.73},{"sample":"Ni/10SA","d":7.04,"dv":4.15},{"sample":"Ni/10SA","d":7.55,"dv":1.04},{"sample":"Ni/10SA","d":7.9,"dv":0.34},{"sample":"Ni/10SA","d":8.5,"dv":0.21},{"sample":"Ni/10SA","d":8.95,"dv":0.16},{"sample":"Ni/10SA","d":9.9,"dv":0.1},{"sample":"Ni/10SA","d":11.1,"dv":0.06},{"sample":"Ni/10SA","d":12.2,"dv":0.1},{"sample":"Ni/10SA","d":13.5,"dv":0.02},{"sample":"Ni/10SA","d":16.1,"dv":0.02},{"sample":"Ni/10SA","d":18.1,"dv":0.06},{"sample":"Ni/10SA","d":20.2,"dv":0.01},{"sample":"Ni/10SA","d":23.5,"dv":0.01},{"sample":"Ni/10SA","d":29.9,"dv":0.01},{"sample":"Ni/10SA","d":40.7,"dv":0.01},{"sample":"Ni/10SA","d":63.9,"dv":0.01},
{"sample":"Ni/15SA","d":1.67,"dv":0},{"sample":"Ni/15SA","d":1.76,"dv":0.01},{"sample":"Ni/15SA","d":1.86,"dv":0.01},{"sample":"Ni/15SA","d":1.97,"dv":0.02},{"sample":"Ni/15SA","d":2.08,"dv":0.03},{"sample":"Ni/15SA","d":2.2,"dv":0.04},{"sample":"Ni/15SA","d":2.33,"dv":0.05},{"sample":"Ni/15SA","d":2.47,"dv":0.07},{"sample":"Ni/15SA","d":2.6,"dv":0.09},{"sample":"Ni/15SA","d":2.71,"dv":0.12},{"sample":"Ni/15SA","d":2.85,"dv":0.16},{"sample":"Ni/15SA","d":3.0,"dv":0.23},{"sample":"Ni/15SA","d":3.22,"dv":0.43},{"sample":"Ni/15SA","d":3.45,"dv":0.49},{"sample":"Ni/15SA","d":3.61,"dv":0.38},{"sample":"Ni/15SA","d":3.96,"dv":0.43},{"sample":"Ni/15SA","d":4.39,"dv":0.54},{"sample":"Ni/15SA","d":4.7,"dv":0.66},{"sample":"Ni/15SA","d":5.04,"dv":0.8},{"sample":"Ni/15SA","d":5.4,"dv":1.05},{"sample":"Ni/15SA","d":5.7,"dv":1.59},{"sample":"Ni/15SA","d":6.06,"dv":2.45},{"sample":"Ni/15SA","d":6.5,"dv":3.43},{"sample":"Ni/15SA","d":7.0,"dv":2.81},{"sample":"Ni/15SA","d":7.45,"dv":0.9},{"sample":"Ni/15SA","d":7.9,"dv":0.38},{"sample":"Ni/15SA","d":8.7,"dv":0.23},{"sample":"Ni/15SA","d":9.35,"dv":0.14},{"sample":"Ni/15SA","d":10,"dv":0.12},{"sample":"Ni/15SA","d":11.1,"dv":0.1},{"sample":"Ni/15SA","d":12.3,"dv":0.07},{"sample":"Ni/15SA","d":13.9,"dv":0.04},{"sample":"Ni/15SA","d":15.3,"dv":0.41},{"sample":"Ni/15SA","d":16.4,"dv":0.04},{"sample":"Ni/15SA","d":19.2,"dv":0.02},{"sample":"Ni/15SA","d":23.2,"dv":0.02},{"sample":"Ni/15SA","d":29.6,"dv":0.02},{"sample":"Ni/15SA","d":41.5,"dv":0.01},{"sample":"Ni/15SA","d":67.5,"dv":0},
{"sample":"Ni/20SA","d":1.94,"dv":0},{"sample":"Ni/20SA","d":2.03,"dv":0.01},{"sample":"Ni/20SA","d":2.13,"dv":0.02},{"sample":"Ni/20SA","d":2.24,"dv":0.03},{"sample":"Ni/20SA","d":2.37,"dv":0.04},{"sample":"Ni/20SA","d":2.5,"dv":0.06},{"sample":"Ni/20SA","d":2.64,"dv":0.08},{"sample":"Ni/20SA","d":2.78,"dv":0.12},{"sample":"Ni/20SA","d":2.92,"dv":0.19},{"sample":"Ni/20SA","d":3.13,"dv":0.34},{"sample":"Ni/20SA","d":3.3,"dv":0.47},{"sample":"Ni/20SA","d":3.47,"dv":0.47},{"sample":"Ni/20SA","d":3.66,"dv":0.42},{"sample":"Ni/20SA","d":3.9,"dv":0.49},{"sample":"Ni/20SA","d":4.12,"dv":0.55},{"sample":"Ni/20SA","d":4.4,"dv":0.6},{"sample":"Ni/20SA","d":4.71,"dv":0.67},{"sample":"Ni/20SA","d":5.05,"dv":0.88},{"sample":"Ni/20SA","d":5.34,"dv":1.16},{"sample":"Ni/20SA","d":5.6,"dv":1.32},{"sample":"Ni/20SA","d":6.03,"dv":2.22},{"sample":"Ni/20SA","d":6.5,"dv":4.1},{"sample":"Ni/20SA","d":7.0,"dv":3.21},{"sample":"Ni/20SA","d":7.47,"dv":0.8},{"sample":"Ni/20SA","d":7.98,"dv":0.37},{"sample":"Ni/20SA","d":8.5,"dv":0.32},{"sample":"Ni/20SA","d":9.1,"dv":0.15},{"sample":"Ni/20SA","d":10.1,"dv":0.11},{"sample":"Ni/20SA","d":10.9,"dv":0.19},{"sample":"Ni/20SA","d":11.9,"dv":0.08},{"sample":"Ni/20SA","d":14.3,"dv":0.05},{"sample":"Ni/20SA","d":15.3,"dv":0.16},{"sample":"Ni/20SA","d":16.3,"dv":0.06},{"sample":"Ni/20SA","d":19.1,"dv":0.03},{"sample":"Ni/20SA","d":23.5,"dv":0.03},{"sample":"Ni/20SA","d":29.8,"dv":0.03},{"sample":"Ni/20SA","d":42.8,"dv":0.02},
{"sample":"Ni/30SA","d":1.83,"dv":0},{"sample":"Ni/30SA","d":1.93,"dv":0.01},{"sample":"Ni/30SA","d":2.04,"dv":0.02},{"sample":"Ni/30SA","d":2.16,"dv":0.03},{"sample":"Ni/30SA","d":2.29,"dv":0.04},{"sample":"Ni/30SA","d":2.43,"dv":0.05},{"sample":"Ni/30SA","d":2.59,"dv":0.07},{"sample":"Ni/30SA","d":2.78,"dv":0.11},{"sample":"Ni/30SA","d":2.97,"dv":0.18},{"sample":"Ni/30SA","d":3.18,"dv":0.3},{"sample":"Ni/30SA","d":3.41,"dv":0.41},{"sample":"Ni/30SA","d":3.65,"dv":0.36},{"sample":"Ni/30SA","d":3.91,"dv":0.44},{"sample":"Ni/30SA","d":4.19,"dv":0.49},{"sample":"Ni/30SA","d":4.49,"dv":0.54},{"sample":"Ni/30SA","d":4.88,"dv":0.61},{"sample":"Ni/30SA","d":5.34,"dv":0.73},{"sample":"Ni/30SA","d":5.72,"dv":0.96},{"sample":"Ni/30SA","d":6.13,"dv":1.35},{"sample":"Ni/30SA","d":6.43,"dv":1.58},{"sample":"Ni/30SA","d":6.78,"dv":2.36},{"sample":"Ni/30SA","d":7.53,"dv":3.35},{"sample":"Ni/30SA","d":8.08,"dv":1.79},{"sample":"Ni/30SA","d":8.66,"dv":0.68},{"sample":"Ni/30SA","d":9.39,"dv":0.33},{"sample":"Ni/30SA","d":10.3,"dv":0.18},{"sample":"Ni/30SA","d":11.2,"dv":0.13},{"sample":"Ni/30SA","d":12.2,"dv":0.1},{"sample":"Ni/30SA","d":14.0,"dv":0.1},{"sample":"Ni/30SA","d":16.1,"dv":0.1},{"sample":"Ni/30SA","d":18.4,"dv":0.1},{"sample":"Ni/30SA","d":21.2,"dv":0.1},{"sample":"Ni/30SA","d":23.5,"dv":0.05},{"sample":"Ni/30SA","d":29.9,"dv":0.05},{"sample":"Ni/30SA","d":40.7,"dv":0.03},{"sample":"Ni/30SA","d":63.9,"dv":0.01}
]
},
"concat": [
{
 "width": 400, "height": 298,
 "layer": [
  {"data": {"name": "iso"},
   "encoding": {
    "x": {"field": "p", "type": "quantitative", "scale": {"domain": [0, 1], "nice": false, "zero": false}, "axis": {"values": [0,0.1,0.2,0.3,0.4,0.5,0.6,0.7,0.8,0.9,1], "labels": false, "tickSize": -5, "tickWidth": 1.5, "domain": false, "title": null}},
    "y": {"field": "v", "type": "quantitative", "scale": {"domain": [26, 600], "nice": false, "zero": false}, "axis": {"values": [50,100,150,200,250,300,350,400,450,500,550,600], "tickSize": {"condition": {"test": "datum.value % 100 === 0", "value": 7}, "value": 4}, "tickWidth": 1.5, "labelExpr": "datum.value % 100 === 0 ? format(datum.value, 'd') : ''", "labelFontSize": 21, "labelPadding": 3, "domain": false, "title": "Volume adsorbed (cm³/g)", "titleFontSize": 31, "titleX": -85, "titleY": 266, "titleBaseline": "alphabetic", "titleAngle": 270, "titleAlign": "center"}}
   },
   "layer": [
    {"transform": [{"filter": "datum.sample === 'Ni/Al2O3'"}], "mark": {"type": "line", "color": "#000000", "strokeWidth": 1}, "encoding": {"detail": {"field": "branch"}}},
    {"transform": [{"filter": "datum.sample === 'Ni/Al2O3' && datum.branch === 'ads'"}], "mark": {"type": "point", "shape": "square", "filled": true, "color": "#000000", "size": 45, "opacity": 1}},
    {"transform": [{"filter": "datum.sample === 'Ni/Al2O3' && datum.branch === 'des'"}], "mark": {"type": "point", "shape": "square", "filled": true, "fill": "white", "stroke": "#000000", "strokeWidth": 1.2, "size": 45, "opacity": 1}},
    {"transform": [{"filter": "datum.sample === 'Ni/Al2O3'"}, {"aggregate": [{"op": "max", "field": "p", "as": "p"}, {"op": "max", "field": "v", "as": "v"}]}], "mark": {"type": "text", "text": "Ni/Al₂O₃", "align": "right", "baseline": "alphabetic", "dx": -3, "dy": 29, "font": "Liberation Serif", "fontWeight": "bold", "fontSize": 29, "color": "#000000"}, "encoding": {"x": {"datum": 1, "type": "quantitative"}, "y": {"datum": 600, "type": "quantitative"}}}
   ]
  },
  {"data": {"name": "psd"},
   "encoding": {
    "x": {"field": "d", "type": "quantitative", "scale": {"type": "log", "domain": [1, 100], "range": [41, 265], "nice": false}, "axis": {"orient": "bottom", "offset": -120, "values": [1,2,3,4,5,6,7,8,9,10,20,30,40,50,60,70,80,90,100], "tickSize": {"condition": {"test": "datum.value === 1 || datum.value === 10 || datum.value === 100", "value": 4}, "value": 2}, "labelExpr": "datum.value === 1 || datum.value === 10 || datum.value === 100 ? format(datum.value, 'd') : ''", "labelFontSize": 10, "labelPadding": 2, "domainColor": "#222", "tickColor": "#222", "tickWidth": 1, "title": "Pore diameter (nm)", "titleFontSize": 16, "titlePadding": 5}},
    "y": {"field": "dv", "type": "quantitative", "scale": {"domain": [-0.2, 5.05], "range": [178, 9], "nice": false, "zero": false}, "axis": {"orient": "left", "offset": -41, "values": [0,0.5,1,1.5,2,2.5,3,3.5,4,4.5,5], "tickSize": {"condition": {"test": "datum.value % 1 === 0", "value": 3}, "value": 2}, "labelExpr": "datum.value % 1 === 0 ? format(datum.value, 'd') : ''", "labelFontSize": 10, "labelPadding": 2, "domainColor": "#222", "tickColor": "#222", "tickWidth": 1, "title": "dV/dlog(D) (cm³/g)", "titleFontSize": 14, "titlePadding": 3}}
   },
   "layer": [
    {"transform": [{"filter": "datum.sample === 'Ni/Al2O3'"}, {"aggregate": [{"op": "max", "field": "d", "as": "d"}, {"op": "max", "field": "dv", "as": "dv"}]}], "mark": {"type": "rect", "fillOpacity": 0, "stroke": "#808080", "strokeWidth": 1}, "encoding": {"x": {"datum": 1, "type": "quantitative"}, "x2": {"datum": 100}, "y": {"datum": -0.2, "type": "quantitative"}, "y2": {"datum": 5.05}}},
    {"transform": [{"filter": "datum.sample === 'Ni/Al2O3'"}], "mark": {"type": "line", "color": "#000000", "strokeWidth": 1}},
    {"transform": [{"filter": "datum.sample === 'Ni/Al2O3'"}], "mark": {"type": "point", "shape": "square", "filled": true, "color": "#000000", "size": 14, "opacity": 1}}
   ]
  }
 ],
 "resolve": {"scale": {"x": "independent", "y": "independent"}, "axis": {"x": "independent", "y": "independent"}}
},
{
 "width": 400, "height": 298,
 "layer": [
  {"data": {"name": "iso"},
   "encoding": {
    "x": {"field": "p", "type": "quantitative", "scale": {"domain": [0, 1], "nice": false, "zero": false}, "axis": {"values": [0,0.1,0.2,0.3,0.4,0.5,0.6,0.7,0.8,0.9,1], "labels": false, "tickSize": -5, "tickWidth": 1.5, "domain": false, "title": null}},
    "y": {"field": "v", "type": "quantitative", "scale": {"domain": [26, 600], "nice": false, "zero": false}, "axis": {"values": [50,100,150,200,250,300,350,400,450,500,550,600], "labels": false, "tickSize": {"condition": {"test": "datum.value % 100 === 0", "value": -6}, "value": -4}, "tickWidth": 1.5, "domain": false, "title": null}}
   },
   "layer": [
    {"transform": [{"filter": "datum.sample === 'Ni/5SA'"}], "mark": {"type": "line", "color": "#FF0000", "strokeWidth": 1}, "encoding": {"detail": {"field": "branch"}}},
    {"transform": [{"filter": "datum.sample === 'Ni/5SA' && datum.branch === 'ads'"}], "mark": {"type": "point", "shape": "circle", "filled": true, "color": "#FF0000", "size": 55, "opacity": 1}},
    {"transform": [{"filter": "datum.sample === 'Ni/5SA' && datum.branch === 'des'"}], "mark": {"type": "point", "shape": "circle", "filled": true, "fill": "white", "stroke": "#FF0000", "strokeWidth": 1.2, "size": 55, "opacity": 1}},
    {"transform": [{"filter": "datum.sample === 'Ni/5SA'"}, {"aggregate": [{"op": "max", "field": "p", "as": "p"}, {"op": "max", "field": "v", "as": "v"}]}], "mark": {"type": "text", "text": "Ni/5SA", "align": "right", "baseline": "alphabetic", "dx": -6, "dy": 28, "font": "Liberation Serif", "fontWeight": "bold", "fontSize": 29, "color": "#FF0000"}, "encoding": {"x": {"datum": 1, "type": "quantitative"}, "y": {"datum": 600, "type": "quantitative"}}}
   ]
  },
  {"data": {"name": "psd"},
   "encoding": {
    "x": {"field": "d", "type": "quantitative", "scale": {"type": "log", "domain": [1, 100], "range": [41, 265], "nice": false}, "axis": {"orient": "bottom", "offset": -120, "values": [1,2,3,4,5,6,7,8,9,10,20,30,40,50,60,70,80,90,100], "tickSize": {"condition": {"test": "datum.value === 1 || datum.value === 10 || datum.value === 100", "value": 4}, "value": 2}, "labelExpr": "datum.value === 1 || datum.value === 10 || datum.value === 100 ? format(datum.value, 'd') : ''", "labelFontSize": 10, "labelPadding": 2, "domainColor": "#222", "tickColor": "#222", "tickWidth": 1, "title": "Pore diameter (nm)", "titleFontSize": 16, "titlePadding": 5}},
    "y": {"field": "dv", "type": "quantitative", "scale": {"domain": [-0.2, 5.05], "range": [178, 9], "nice": false, "zero": false}, "axis": {"orient": "left", "offset": -41, "values": [0,0.5,1,1.5,2,2.5,3,3.5,4,4.5,5], "tickSize": {"condition": {"test": "datum.value % 1 === 0", "value": 3}, "value": 2}, "labelExpr": "datum.value % 1 === 0 ? format(datum.value, 'd') : ''", "labelFontSize": 10, "labelPadding": 2, "domainColor": "#222", "tickColor": "#222", "tickWidth": 1, "title": "dV/dlog(D) (cm³/g)", "titleFontSize": 14, "titlePadding": 3}}
   },
   "layer": [
    {"transform": [{"filter": "datum.sample === 'Ni/5SA'"}, {"aggregate": [{"op": "max", "field": "d", "as": "d"}, {"op": "max", "field": "dv", "as": "dv"}]}], "mark": {"type": "rect", "fillOpacity": 0, "stroke": "#808080", "strokeWidth": 1}, "encoding": {"x": {"datum": 1, "type": "quantitative"}, "x2": {"datum": 100}, "y": {"datum": -0.2, "type": "quantitative"}, "y2": {"datum": 5.05}}},
    {"transform": [{"filter": "datum.sample === 'Ni/5SA'"}], "mark": {"type": "line", "color": "#FF0000", "strokeWidth": 1}},
    {"transform": [{"filter": "datum.sample === 'Ni/5SA'"}], "mark": {"type": "point", "shape": "circle", "filled": true, "color": "#FF0000", "size": 14, "opacity": 1}}
   ]
  }
 ],
 "resolve": {"scale": {"x": "independent", "y": "independent"}, "axis": {"x": "independent", "y": "independent"}}
},
{
 "width": 400, "height": 298,
 "layer": [
  {"data": {"name": "iso"},
   "encoding": {
    "x": {"field": "p", "type": "quantitative", "scale": {"domain": [0, 1], "nice": false, "zero": false}, "axis": {"values": [0,0.1,0.2,0.3,0.4,0.5,0.6,0.7,0.8,0.9,1], "labels": false, "tickSize": -5, "tickWidth": 1.5, "domain": false, "title": null}},
    "y": {"field": "v", "type": "quantitative", "scale": {"domain": [26, 600], "nice": false, "zero": false}, "axis": {"values": [50,100,150,200,250,300,350,400,450,500,550,600], "labels": false, "tickSize": {"condition": {"test": "datum.value % 100 === 0", "value": -6}, "value": -4}, "tickWidth": 1.5, "domain": false, "title": null}}
   },
   "layer": [
    {"transform": [{"filter": "datum.sample === 'Ni/10SA'"}], "mark": {"type": "line", "color": "#0000FF", "strokeWidth": 1}, "encoding": {"detail": {"field": "branch"}}},
    {"transform": [{"filter": "datum.sample === 'Ni/10SA' && datum.branch === 'ads'"}], "mark": {"type": "point", "shape": "square", "filled": true, "color": "#0000FF", "size": 50, "opacity": 1}},
    {"transform": [{"filter": "datum.sample === 'Ni/10SA' && datum.branch === 'des'"}], "mark": {"type": "point", "shape": "triangle-up", "filled": true, "fill": "white", "stroke": "#0000FF", "strokeWidth": 1.1, "size": 70, "opacity": 1}},
    {"transform": [{"filter": "datum.sample === 'Ni/10SA'"}, {"aggregate": [{"op": "max", "field": "p", "as": "p"}, {"op": "max", "field": "v", "as": "v"}]}], "mark": {"type": "text", "text": "Ni/10SA", "align": "right", "baseline": "alphabetic", "dx": -6, "dy": 30, "font": "Liberation Serif", "fontWeight": "bold", "fontSize": 29, "color": "#0000FF"}, "encoding": {"x": {"datum": 1, "type": "quantitative"}, "y": {"datum": 600, "type": "quantitative"}}}
   ]
  },
  {"data": {"name": "psd"},
   "encoding": {
    "x": {"field": "d", "type": "quantitative", "scale": {"type": "log", "domain": [1, 100], "range": [42, 264], "nice": false}, "axis": {"orient": "bottom", "offset": -122, "values": [1,2,3,4,5,6,7,8,9,10,20,30,40,50,60,70,80,90,100], "tickSize": {"condition": {"test": "datum.value === 1 || datum.value === 10 || datum.value === 100", "value": 4}, "value": 2}, "labelExpr": "datum.value === 1 || datum.value === 10 || datum.value === 100 ? format(datum.value, 'd') : ''", "labelFontSize": 10, "labelPadding": 2, "domainColor": "#222", "tickColor": "#222", "tickWidth": 1, "title": "Pore diameter (nm)", "titleFontSize": 16, "titlePadding": 5}},
    "y": {"field": "dv", "type": "quantitative", "scale": {"domain": [-0.2, 5.05], "range": [176, 8], "nice": false, "zero": false}, "axis": {"orient": "left", "offset": -42, "values": [0,0.5,1,1.5,2,2.5,3,3.5,4,4.5,5], "tickSize": {"condition": {"test": "datum.value % 1 === 0", "value": 3}, "value": 2}, "labelExpr": "datum.value % 1 === 0 ? format(datum.value, 'd') : ''", "labelFontSize": 10, "labelPadding": 2, "domainColor": "#222", "tickColor": "#222", "tickWidth": 1, "title": "dV/dlog(D) (cm³/g)", "titleFontSize": 14, "titlePadding": 3}}
   },
   "layer": [
    {"transform": [{"filter": "datum.sample === 'Ni/10SA'"}, {"aggregate": [{"op": "max", "field": "d", "as": "d"}, {"op": "max", "field": "dv", "as": "dv"}]}], "mark": {"type": "rect", "fillOpacity": 0, "stroke": "#808080", "strokeWidth": 1}, "encoding": {"x": {"datum": 1, "type": "quantitative"}, "x2": {"datum": 100}, "y": {"datum": -0.2, "type": "quantitative"}, "y2": {"datum": 5.05}}},
    {"transform": [{"filter": "datum.sample === 'Ni/10SA'"}], "mark": {"type": "line", "color": "#0000FF", "strokeWidth": 1}},
    {"transform": [{"filter": "datum.sample === 'Ni/10SA'"}], "mark": {"type": "point", "shape": "triangle-up", "filled": true, "color": "#0000FF", "size": 16, "opacity": 1}}
   ]
  }
 ],
 "resolve": {"scale": {"x": "independent", "y": "independent"}, "axis": {"x": "independent", "y": "independent"}}
},
{
 "width": 400, "height": 298,
 "layer": [
  {"data": {"name": "iso"},
   "encoding": {
    "x": {"field": "p", "type": "quantitative", "scale": {"domain": [0, 1], "nice": false, "zero": false}, "axis": {"values": [0,0.1,0.2,0.3,0.4,0.5,0.6,0.7,0.8,0.9,1], "tickSize": {"condition": {"test": "round(datum.value*10) % 2 === 0", "value": 7}, "value": 4}, "tickWidth": 1.5, "labelExpr": "round(datum.value*10) % 2 === 0 ? format(datum.value, '.1f') : ''", "labelFontSize": 22, "labelPadding": 2, "domain": false, "title": null}},
    "y": {"field": "v", "type": "quantitative", "scale": {"domain": [26, 600], "nice": false, "zero": false}, "axis": {"values": [50,100,150,200,250,300,350,400,450,500,550,600], "tickSize": {"condition": {"test": "datum.value % 100 === 0", "value": 7}, "value": 4}, "tickWidth": 1.5, "labelExpr": "datum.value % 100 === 0 ? format(datum.value, 'd') : ''", "labelFontSize": 21, "labelPadding": 3, "domain": false, "title": null}}
   },
   "layer": [
    {"transform": [{"filter": "datum.sample === 'Ni/15SA'"}], "mark": {"type": "line", "color": "#008080", "strokeWidth": 1}, "encoding": {"detail": {"field": "branch"}}},
    {"transform": [{"filter": "datum.sample === 'Ni/15SA' && datum.branch === 'ads'"}], "mark": {"type": "point", "shape": "triangle-down", "filled": true, "color": "#008080", "size": 70, "opacity": 1}},
    {"transform": [{"filter": "datum.sample === 'Ni/15SA' && datum.branch === 'des'"}], "mark": {"type": "point", "shape": "triangle-down", "filled": true, "fill": "white", "stroke": "#008080", "strokeWidth": 1.1, "size": 70, "opacity": 1}},
    {"transform": [{"filter": "datum.sample === 'Ni/15SA'"}, {"aggregate": [{"op": "max", "field": "p", "as": "p"}, {"op": "max", "field": "v", "as": "v"}]}], "mark": {"type": "text", "text": "Ni/15SA", "align": "right", "baseline": "alphabetic", "dx": -7, "dy": 28, "font": "Liberation Serif", "fontWeight": "bold", "fontSize": 29, "color": "#008080"}, "encoding": {"x": {"datum": 1, "type": "quantitative"}, "y": {"datum": 600, "type": "quantitative"}}}
   ]
  },
  {"data": {"name": "psd"},
   "encoding": {
    "x": {"field": "d", "type": "quantitative", "scale": {"type": "log", "domain": [1, 100], "range": [42, 265], "nice": false}, "axis": {"orient": "bottom", "offset": -120, "values": [1,2,3,4,5,6,7,8,9,10,20,30,40,50,60,70,80,90,100], "tickSize": {"condition": {"test": "datum.value === 1 || datum.value === 10 || datum.value === 100", "value": 4}, "value": 2}, "labelExpr": "datum.value === 1 || datum.value === 10 || datum.value === 100 ? format(datum.value, 'd') : ''", "labelFontSize": 10, "labelPadding": 2, "domainColor": "#222", "tickColor": "#222", "tickWidth": 1, "title": "Pore diameter (nm)", "titleFontSize": 16, "titlePadding": 5}},
    "y": {"field": "dv", "type": "quantitative", "scale": {"domain": [-0.2, 5.05], "range": [178, 8], "nice": false, "zero": false}, "axis": {"orient": "left", "offset": -42, "values": [0,0.5,1,1.5,2,2.5,3,3.5,4,4.5,5], "tickSize": {"condition": {"test": "datum.value % 1 === 0", "value": 3}, "value": 2}, "labelExpr": "datum.value % 1 === 0 ? format(datum.value, 'd') : ''", "labelFontSize": 10, "labelPadding": 2, "domainColor": "#222", "tickColor": "#222", "tickWidth": 1, "title": "dV/dlog(D) (cm³/g)", "titleFontSize": 14, "titlePadding": 3}}
   },
   "layer": [
    {"transform": [{"filter": "datum.sample === 'Ni/15SA'"}, {"aggregate": [{"op": "max", "field": "d", "as": "d"}, {"op": "max", "field": "dv", "as": "dv"}]}], "mark": {"type": "rect", "fillOpacity": 0, "stroke": "#808080", "strokeWidth": 1}, "encoding": {"x": {"datum": 1, "type": "quantitative"}, "x2": {"datum": 100}, "y": {"datum": -0.2, "type": "quantitative"}, "y2": {"datum": 5.05}}},
    {"transform": [{"filter": "datum.sample === 'Ni/15SA'"}], "mark": {"type": "line", "color": "#008080", "strokeWidth": 1}},
    {"transform": [{"filter": "datum.sample === 'Ni/15SA'"}], "mark": {"type": "point", "shape": "triangle-down", "filled": true, "color": "#008080", "size": 16, "opacity": 1}}
   ]
  }
 ],
 "resolve": {"scale": {"x": "independent", "y": "independent"}, "axis": {"x": "independent", "y": "independent"}}
},
{
 "width": 400, "height": 298,
 "layer": [
  {"data": {"name": "iso"},
   "encoding": {
    "x": {"field": "p", "type": "quantitative", "scale": {"domain": [0, 1], "nice": false, "zero": false}, "axis": {"values": [0,0.1,0.2,0.3,0.4,0.5,0.6,0.7,0.8,0.9,1], "tickSize": {"condition": {"test": "round(datum.value*10) % 2 === 0", "value": 7}, "value": 4}, "tickWidth": 1.5, "labelExpr": "round(datum.value*10) % 2 === 0 && datum.value > 0 ? format(datum.value, '.1f') : ''", "labelFontSize": 22, "labelPadding": 2, "domain": false, "title": "Relative pressure (P/P₀)", "titleFontSize": 28, "titleX": 195, "titleY": 72, "titleBaseline": "alphabetic"}},
    "y": {"field": "v", "type": "quantitative", "scale": {"domain": [26, 600], "nice": false, "zero": false}, "axis": {"values": [50,100,150,200,250,300,350,400,450,500,550,600], "labels": false, "tickSize": {"condition": {"test": "datum.value % 100 === 0", "value": -6}, "value": -4}, "tickWidth": 1.5, "domain": false, "title": null}}
   },
   "layer": [
    {"transform": [{"filter": "datum.sample === 'Ni/20SA'"}], "mark": {"type": "line", "color": "#FF00FF", "strokeWidth": 1}, "encoding": {"detail": {"field": "branch"}}},
    {"transform": [{"filter": "datum.sample === 'Ni/20SA' && datum.branch === 'ads'"}], "mark": {"type": "point", "shape": "diamond", "filled": true, "color": "#FF00FF", "size": 80, "opacity": 1}},
    {"transform": [{"filter": "datum.sample === 'Ni/20SA' && datum.branch === 'des'"}], "mark": {"type": "point", "shape": "diamond", "filled": true, "fill": "white", "stroke": "#FF00FF", "strokeWidth": 1.1, "size": 80, "opacity": 1}},
    {"transform": [{"filter": "datum.sample === 'Ni/20SA'"}, {"aggregate": [{"op": "max", "field": "p", "as": "p"}, {"op": "max", "field": "v", "as": "v"}]}], "mark": {"type": "text", "text": "Ni/20SA", "align": "right", "baseline": "alphabetic", "dx": -6, "dy": 28, "font": "Liberation Serif", "fontWeight": "bold", "fontSize": 29, "color": "#FF00FF"}, "encoding": {"x": {"datum": 1, "type": "quantitative"}, "y": {"datum": 600, "type": "quantitative"}}}
   ]
  },
  {"data": {"name": "psd"},
   "encoding": {
    "x": {"field": "d", "type": "quantitative", "scale": {"type": "log", "domain": [1, 100], "range": [42, 266], "nice": false}, "axis": {"orient": "bottom", "offset": -120, "values": [1,2,3,4,5,6,7,8,9,10,20,30,40,50,60,70,80,90,100], "tickSize": {"condition": {"test": "datum.value === 1 || datum.value === 10 || datum.value === 100", "value": 4}, "value": 2}, "labelExpr": "datum.value === 1 || datum.value === 10 || datum.value === 100 ? format(datum.value, 'd') : ''", "labelFontSize": 10, "labelPadding": 2, "domainColor": "#222", "tickColor": "#222", "tickWidth": 1, "title": "Pore diameter (nm)", "titleFontSize": 16, "titlePadding": 5}},
    "y": {"field": "dv", "type": "quantitative", "scale": {"domain": [-0.2, 5.05], "range": [178, 8], "nice": false, "zero": false}, "axis": {"orient": "left", "offset": -42, "values": [0,0.5,1,1.5,2,2.5,3,3.5,4,4.5,5], "tickSize": {"condition": {"test": "datum.value % 1 === 0", "value": 3}, "value": 2}, "labelExpr": "datum.value % 1 === 0 ? format(datum.value, 'd') : ''", "labelFontSize": 10, "labelPadding": 2, "domainColor": "#222", "tickColor": "#222", "tickWidth": 1, "title": "dV/dlog(D) (cm³/g)", "titleFontSize": 14, "titlePadding": 3}}
   },
   "layer": [
    {"transform": [{"filter": "datum.sample === 'Ni/20SA'"}, {"aggregate": [{"op": "max", "field": "d", "as": "d"}, {"op": "max", "field": "dv", "as": "dv"}]}], "mark": {"type": "rect", "fillOpacity": 0, "stroke": "#808080", "strokeWidth": 1}, "encoding": {"x": {"datum": 1, "type": "quantitative"}, "x2": {"datum": 100}, "y": {"datum": -0.2, "type": "quantitative"}, "y2": {"datum": 5.05}}},
    {"transform": [{"filter": "datum.sample === 'Ni/20SA'"}], "mark": {"type": "line", "color": "#FF00FF", "strokeWidth": 1}},
    {"transform": [{"filter": "datum.sample === 'Ni/20SA'"}], "mark": {"type": "point", "shape": "diamond", "filled": true, "color": "#FF00FF", "size": 18, "opacity": 1}}
   ]
  }
 ],
 "resolve": {"scale": {"x": "independent", "y": "independent"}, "axis": {"x": "independent", "y": "independent"}}
},
{
 "width": 400, "height": 298,
 "layer": [
  {"data": {"name": "iso"},
   "encoding": {
    "x": {"field": "p", "type": "quantitative", "scale": {"domain": [0, 1], "nice": false, "zero": false}, "axis": {"values": [0,0.1,0.2,0.3,0.4,0.5,0.6,0.7,0.8,0.9,1], "tickSize": {"condition": {"test": "round(datum.value*10) % 2 === 0", "value": 7}, "value": 4}, "tickWidth": 1.5, "labelExpr": "round(datum.value*10) % 2 === 0 && datum.value > 0 ? format(datum.value, '.1f') : ''", "labelFontSize": 22, "labelPadding": 2, "domain": false, "title": null}},
    "y": {"field": "v", "type": "quantitative", "scale": {"domain": [26, 600], "nice": false, "zero": false}, "axis": {"values": [50,100,150,200,250,300,350,400,450,500,550,600], "labels": false, "tickSize": {"condition": {"test": "datum.value % 100 === 0", "value": -6}, "value": -4}, "tickWidth": 1.5, "domain": false, "title": null}}
   },
   "layer": [
    {"transform": [{"filter": "datum.sample === 'Ni/30SA'"}], "mark": {"type": "line", "color": "#808000", "strokeWidth": 1}, "encoding": {"detail": {"field": "branch"}}},
    {"transform": [{"filter": "datum.sample === 'Ni/30SA' && datum.branch === 'ads'"}], "mark": {"type": "point", "shape": "triangle-left", "filled": true, "color": "#808000", "size": 70, "opacity": 1}},
    {"transform": [{"filter": "datum.sample === 'Ni/30SA' && datum.branch === 'des'"}], "mark": {"type": "point", "shape": "triangle-left", "filled": true, "fill": "white", "stroke": "#808000", "strokeWidth": 1.1, "size": 70, "opacity": 1}},
    {"transform": [{"filter": "datum.sample === 'Ni/30SA'"}, {"aggregate": [{"op": "max", "field": "p", "as": "p"}, {"op": "max", "field": "v", "as": "v"}]}], "mark": {"type": "text", "text": "Ni/30SA", "align": "right", "baseline": "alphabetic", "dx": -7, "dy": 28, "font": "Liberation Serif", "fontWeight": "bold", "fontSize": 29, "color": "#808000"}, "encoding": {"x": {"datum": 1, "type": "quantitative"}, "y": {"datum": 600, "type": "quantitative"}}}
   ]
  },
  {"data": {"name": "psd"},
   "encoding": {
    "x": {"field": "d", "type": "quantitative", "scale": {"type": "log", "domain": [1, 100], "range": [42, 265], "nice": false}, "axis": {"orient": "bottom", "offset": -109, "values": [1,2,3,4,5,6,7,8,9,10,20,30,40,50,60,70,80,90,100], "tickSize": {"condition": {"test": "datum.value === 1 || datum.value === 10 || datum.value === 100", "value": 4}, "value": 2}, "labelExpr": "datum.value === 1 || datum.value === 10 || datum.value === 100 ? format(datum.value, 'd') : ''", "labelFontSize": 10, "labelPadding": 2, "domainColor": "#222", "tickColor": "#222", "tickWidth": 1, "title": "Pore diameter (nm)", "titleFontSize": 16, "titlePadding": 5}},
    "y": {"field": "dv", "type": "quantitative", "scale": {"domain": [-0.2, 5.05], "range": [189, 21], "nice": false, "zero": false}, "axis": {"orient": "left", "offset": -42, "values": [0,0.5,1,1.5,2,2.5,3,3.5,4,4.5,5], "tickSize": {"condition": {"test": "datum.value % 1 === 0", "value": 3}, "value": 2}, "labelExpr": "datum.value % 1 === 0 ? format(datum.value, 'd') : ''", "labelFontSize": 10, "labelPadding": 2, "domainColor": "#222", "tickColor": "#222", "tickWidth": 1, "title": "dV/dlog(D) (cm³/g)", "titleFontSize": 14, "titlePadding": 3}}
   },
   "layer": [
    {"transform": [{"filter": "datum.sample === 'Ni/30SA'"}, {"aggregate": [{"op": "max", "field": "d", "as": "d"}, {"op": "max", "field": "dv", "as": "dv"}]}], "mark": {"type": "rect", "fillOpacity": 0, "stroke": "#808080", "strokeWidth": 1}, "encoding": {"x": {"datum": 1, "type": "quantitative"}, "x2": {"datum": 100}, "y": {"datum": -0.2, "type": "quantitative"}, "y2": {"datum": 5.05}}},
    {"transform": [{"filter": "datum.sample === 'Ni/30SA'"}], "mark": {"type": "line", "color": "#808000", "strokeWidth": 1}},
    {"transform": [{"filter": "datum.sample === 'Ni/30SA'"}], "mark": {"type": "point", "shape": "triangle-left", "filled": true, "color": "#808000", "size": 16, "opacity": 1}}
   ]
  }
 ],
 "resolve": {"scale": {"x": "independent", "y": "independent"}, "axis": {"x": "independent", "y": "independent"}}
}
]
}
